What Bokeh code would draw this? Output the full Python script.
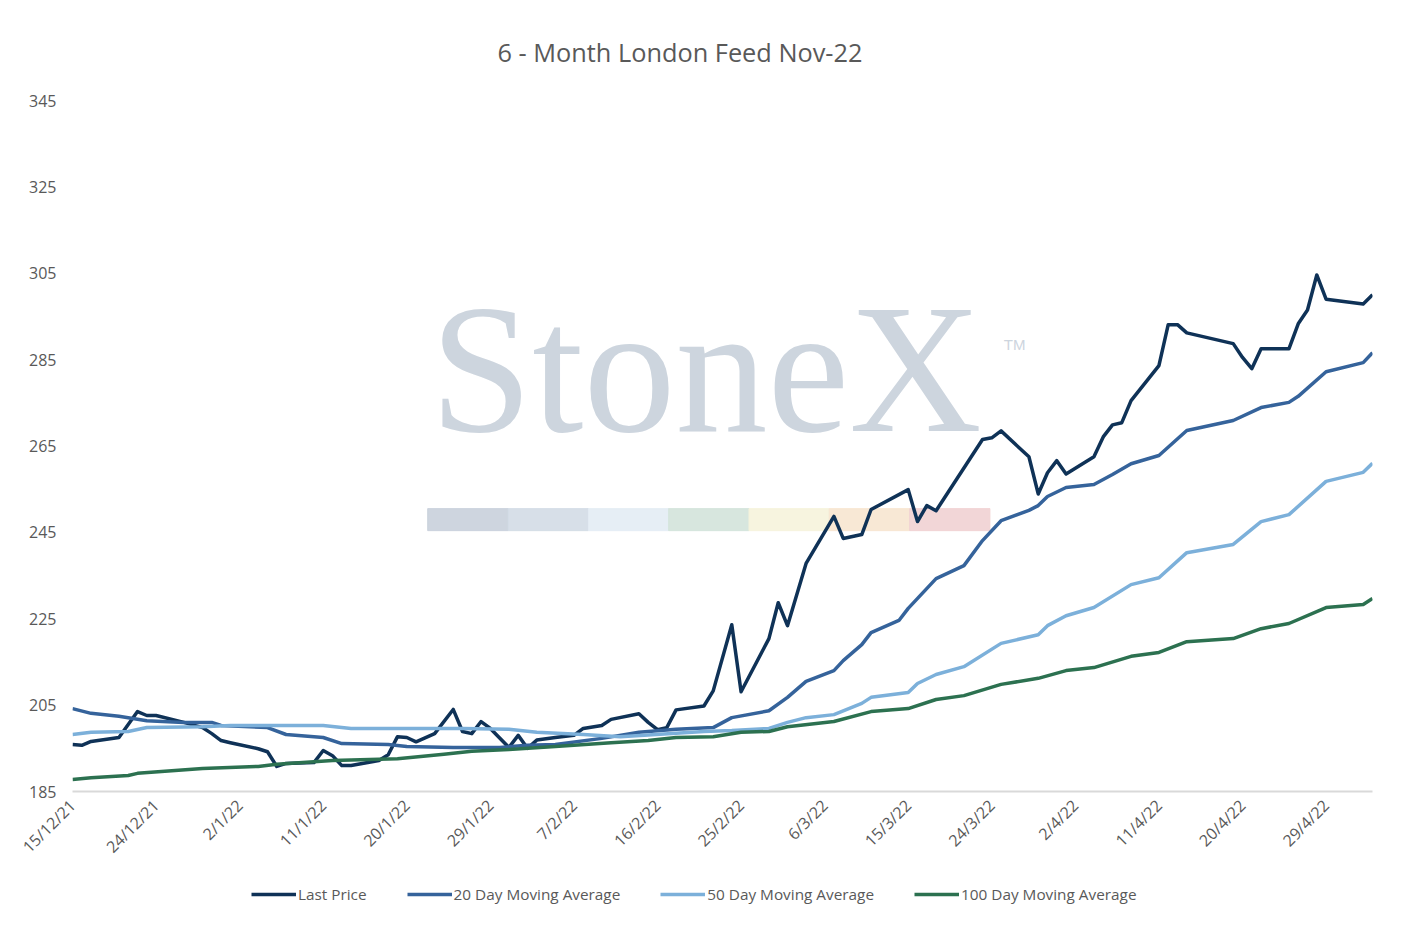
import datetime as dt
from math import pi
from bokeh.plotting import figure
from bokeh.layouts import column
from bokeh.models import (FixedTicker, CustomJSTickFormatter, Legend, LegendItem,
                          Label, Range1d)
from bokeh.embed import file_html
from bokeh.resources import INLINE

START = dt.datetime(2021, 12, 15)

tick_labels = ["15/12/21", "24/12/21", "2/1/22", "11/1/22", "20/1/22", "29/1/22", "7/2/22",
               "16/2/22", "25/2/22", "6/3/22", "15/3/22", "24/3/22", "2/4/22", "11/4/22",
               "20/4/22", "29/4/22"]

lp_days = [0, 1, 2, 5, 7, 8, 9, 12, 14, 15, 16, 17, 20, 21, 22, 23, 26, 27, 28, 29, 30, 33, 34, 35,
           36, 37, 39, 41, 42, 43, 44, 45, 47, 48, 49, 50, 52, 54, 55, 57, 58, 61, 62, 63, 64, 65,
           68, 69, 71, 72, 75, 76, 77, 79, 82, 83, 85, 86, 90, 91, 92, 93, 98, 99, 100, 103, 104,
           105, 106, 107, 110, 111, 112, 113, 114, 117, 118, 119, 120, 125, 126, 127, 128, 131,
           132, 133, 134, 135, 139, 140]
lp_vals = [195.9, 195.7, 196.6, 197.5, 203.5, 202.6, 202.6, 201.0, 199.8, 198.4, 196.8, 196.3,
           194.9, 194.2, 190.8, 191.5, 191.7, 194.5, 193.3, 191.0, 191.0, 192.2, 193.5, 197.7,
           197.5, 196.5, 198.4, 204.0, 198.9, 198.4, 201.2, 199.6, 195.2, 198.0, 195.0, 196.9,
           197.5, 198.0, 199.6, 200.3, 201.7, 203.0, 201.0, 199.3, 199.8, 203.9, 204.8, 208.3,
           223.6, 208.1, 220.4, 228.7, 223.4, 237.8, 248.7, 243.6, 244.5, 250.3, 254.9, 247.5,
           251.2, 250.0, 266.5, 266.9, 268.5, 262.5, 253.9, 258.8, 261.6, 258.5, 262.5, 267.1,
           269.9, 270.4, 275.5, 283.6, 293.1, 293.1, 291.2, 288.7, 285.5, 282.9, 287.5, 287.5,
           293.3, 296.5, 304.6, 299.0, 297.9, 300.0]

ma20_days = [0, 2, 5, 8, 12, 15, 16, 21, 23, 27, 29, 34, 36, 41, 46, 49, 52, 57, 61, 65, 69, 71,
             75, 77, 79, 82, 83, 85, 86, 89, 90, 93, 96, 98, 100, 103, 104, 105, 107, 110, 112,
             114, 117, 120, 125, 128, 131, 132, 135, 139, 140]
ma20_vals = [204.2, 203.1, 202.4, 201.4, 201.0, 201.0, 200.3, 199.8, 198.2, 197.5, 196.1, 195.9,
             195.4, 195.2, 195.2, 195.7, 195.9, 197.3, 198.7, 199.4, 199.8, 202.1, 203.7, 206.8,
             210.5, 213.0, 215.3, 219.0, 221.8, 224.6, 227.4, 234.3, 237.3, 243.1, 247.7, 250.1,
             251.2, 253.3, 255.4, 256.1, 258.4, 260.9, 262.8, 268.6, 270.9, 273.9, 275.1, 276.5,
             282.2, 284.3, 286.6]

ma50_days = [0, 2, 6, 8, 14, 17, 27, 30, 35, 42, 47, 50, 55, 59, 68, 71, 75, 77, 79, 82, 85, 86,
             90, 91, 93, 96, 100, 104, 105, 107, 110, 114, 117, 120, 125, 128, 131, 135, 139, 140]
ma50_vals = [198.2, 198.7, 198.9, 199.8, 200.0, 200.3, 200.3, 199.6, 199.6, 199.6, 199.4, 198.7,
             198.2, 197.7, 198.9, 199.1, 199.6, 201.0, 202.1, 202.8, 205.4, 206.8, 207.9, 210.0,
             212.1, 213.9, 219.3, 221.3, 223.4, 225.7, 227.6, 232.9, 234.5, 240.3, 242.2, 247.5,
             249.1, 256.8, 258.9, 261.0]

ma100_days = [0, 2, 6, 7, 14, 20, 22, 28, 35, 40, 43, 47, 52, 58, 62, 65, 69, 72, 75, 77, 82, 86,
              90, 93, 96, 100, 104, 107, 110, 114, 117, 120, 125, 128, 131, 135, 139, 140]
ma100_vals = [187.8, 188.2, 188.7, 189.2, 190.3, 190.8, 191.3, 192.2, 192.6, 193.6, 194.3, 194.7,
              195.4, 196.3, 196.8, 197.5, 197.7, 198.7, 198.9, 200.0, 201.2, 203.5, 204.2, 206.3,
              207.2, 209.8, 211.2, 213.0, 213.7, 216.3, 217.2, 219.7, 220.4, 222.7, 223.9, 227.6,
              228.3, 229.7]

y_ticks = [185, 205, 225, 245, 265, 285, 305, 325, 345]

series = [("Last Price", lp_days, lp_vals, "#0f3257"),
          ("20 Day Moving Average", ma20_days, ma20_vals, "#35639b"),
          ("50 Day Moving Average", ma50_days, ma50_vals, "#7cb0da"),
          ("100 Day Moving Average", ma100_days, ma100_vals, "#2c7150")]


def to_dt(d):
    return START + dt.timedelta(days=d)


def parse(s):
    d, m, y = s.split("/")
    return dt.datetime(2000 + int(y), int(m), int(d))


def ms(t):
    return (t - dt.datetime(1970, 1, 1)).total_seconds() * 1000


p = figure(frame_width=1300, frame_height=691, x_axis_type="datetime", output_backend="svg",
           toolbar_location=None, min_border_left=72, min_border_right=24,
           min_border_top=92, min_border_bottom=95,
           x_range=Range1d(to_dt(0), to_dt(140)), y_range=Range1d(185, 345))
p.outline_line_color = None
p.border_fill_color = "white"
p.xgrid.grid_line_color = None
p.ygrid.grid_line_color = None

p.title.text = "6 - Month London Feed Nov-22"
p.title.align = "left"
p.title.text_font = "Open Sans"
p.title.text_font_size = "19pt"
p.title.text_font_style = "normal"
p.title.text_color = "#595959"
p.title.offset = 425
p.title.standoff = 64

# watermark
wm = Label(x=to_dt(38.5), y=259.3, text="StoneX", text_font="Liberation Serif",
           text_font_size="184px", text_color="#cdd5de", level="underlay")
p.add_layout(wm)
tm = Label(x=to_dt(100.3), y=286.5, text="TM", text_font="Liberation Sans",
           text_font_size="15px", text_color="#cdd5de", level="underlay")
p.add_layout(tm)
band_colors = ["#c9d0db", "#d3dbe6", "#e3ecf4", "#d3e3da", "#f6f3dc", "#f7e6d0", "#f1d1d3"]
seg = (98.8 - 38.25) / len(band_colors)
p.quad(left=[to_dt(38.25 + i * seg) for i in range(7)],
       right=[to_dt(38.25 + (i + 1) * seg) for i in range(7)],
       bottom=245.4, top=250.5, color=band_colors, alpha=0.9, level="underlay")

for name, days, vals, col in series:
    p.line([to_dt(d) for d in days], vals, line_color=col, line_width=3.5, line_join="round")

p.xaxis.ticker = FixedTicker(ticks=[ms(parse(s)) for s in tick_labels])
p.xaxis.formatter = CustomJSTickFormatter(code="""
const d = new Date(tick);
return d.getUTCDate() + '/' + (d.getUTCMonth()+1) + '/' + String(d.getUTCFullYear()).slice(2);
""")
p.xaxis.major_label_orientation = pi / 4
p.yaxis.ticker = FixedTicker(ticks=y_ticks)
for ax in (p.xaxis[0], p.yaxis[0]):
    ax.major_label_text_font = "Open Sans"
    ax.major_label_text_font_size = "12pt"
    ax.major_label_text_color = "#595959"
    ax.major_tick_line_color = None
    ax.minor_tick_line_color = None
p.xaxis.axis_line_color = "#d9d9d9"
p.xaxis.axis_line_width = 2
p.yaxis.axis_line_color = None
p.yaxis.major_label_standoff = 10

# legend in a slim figure underneath
lf = figure(width=1396, height=30, output_backend="svg", toolbar_location=None,
            min_border=0, x_range=Range1d(0, 1), y_range=Range1d(0, 1))
lf.axis.visible = False
lf.grid.visible = False
lf.outline_line_color = None
items = []
for name, days, vals, col in series:
    r = lf.line([5, 6], [5, 6], line_color=col, line_width=3.5)
    items.append(LegendItem(label=name, renderers=[r]))
leg = Legend(items=items, orientation="horizontal", location=(179, 12),
             label_text_font="Open Sans", label_text_font_size="11.5pt",
             label_text_color="#595959", glyph_width=45, spacing=40,
             border_line_color=None, background_fill_alpha=0, padding=0,
             margin=0, label_standoff=2)
lf.add_layout(leg, "center")

open("out.html", "w").write(file_html(column(p, lf, spacing=0), INLINE))
